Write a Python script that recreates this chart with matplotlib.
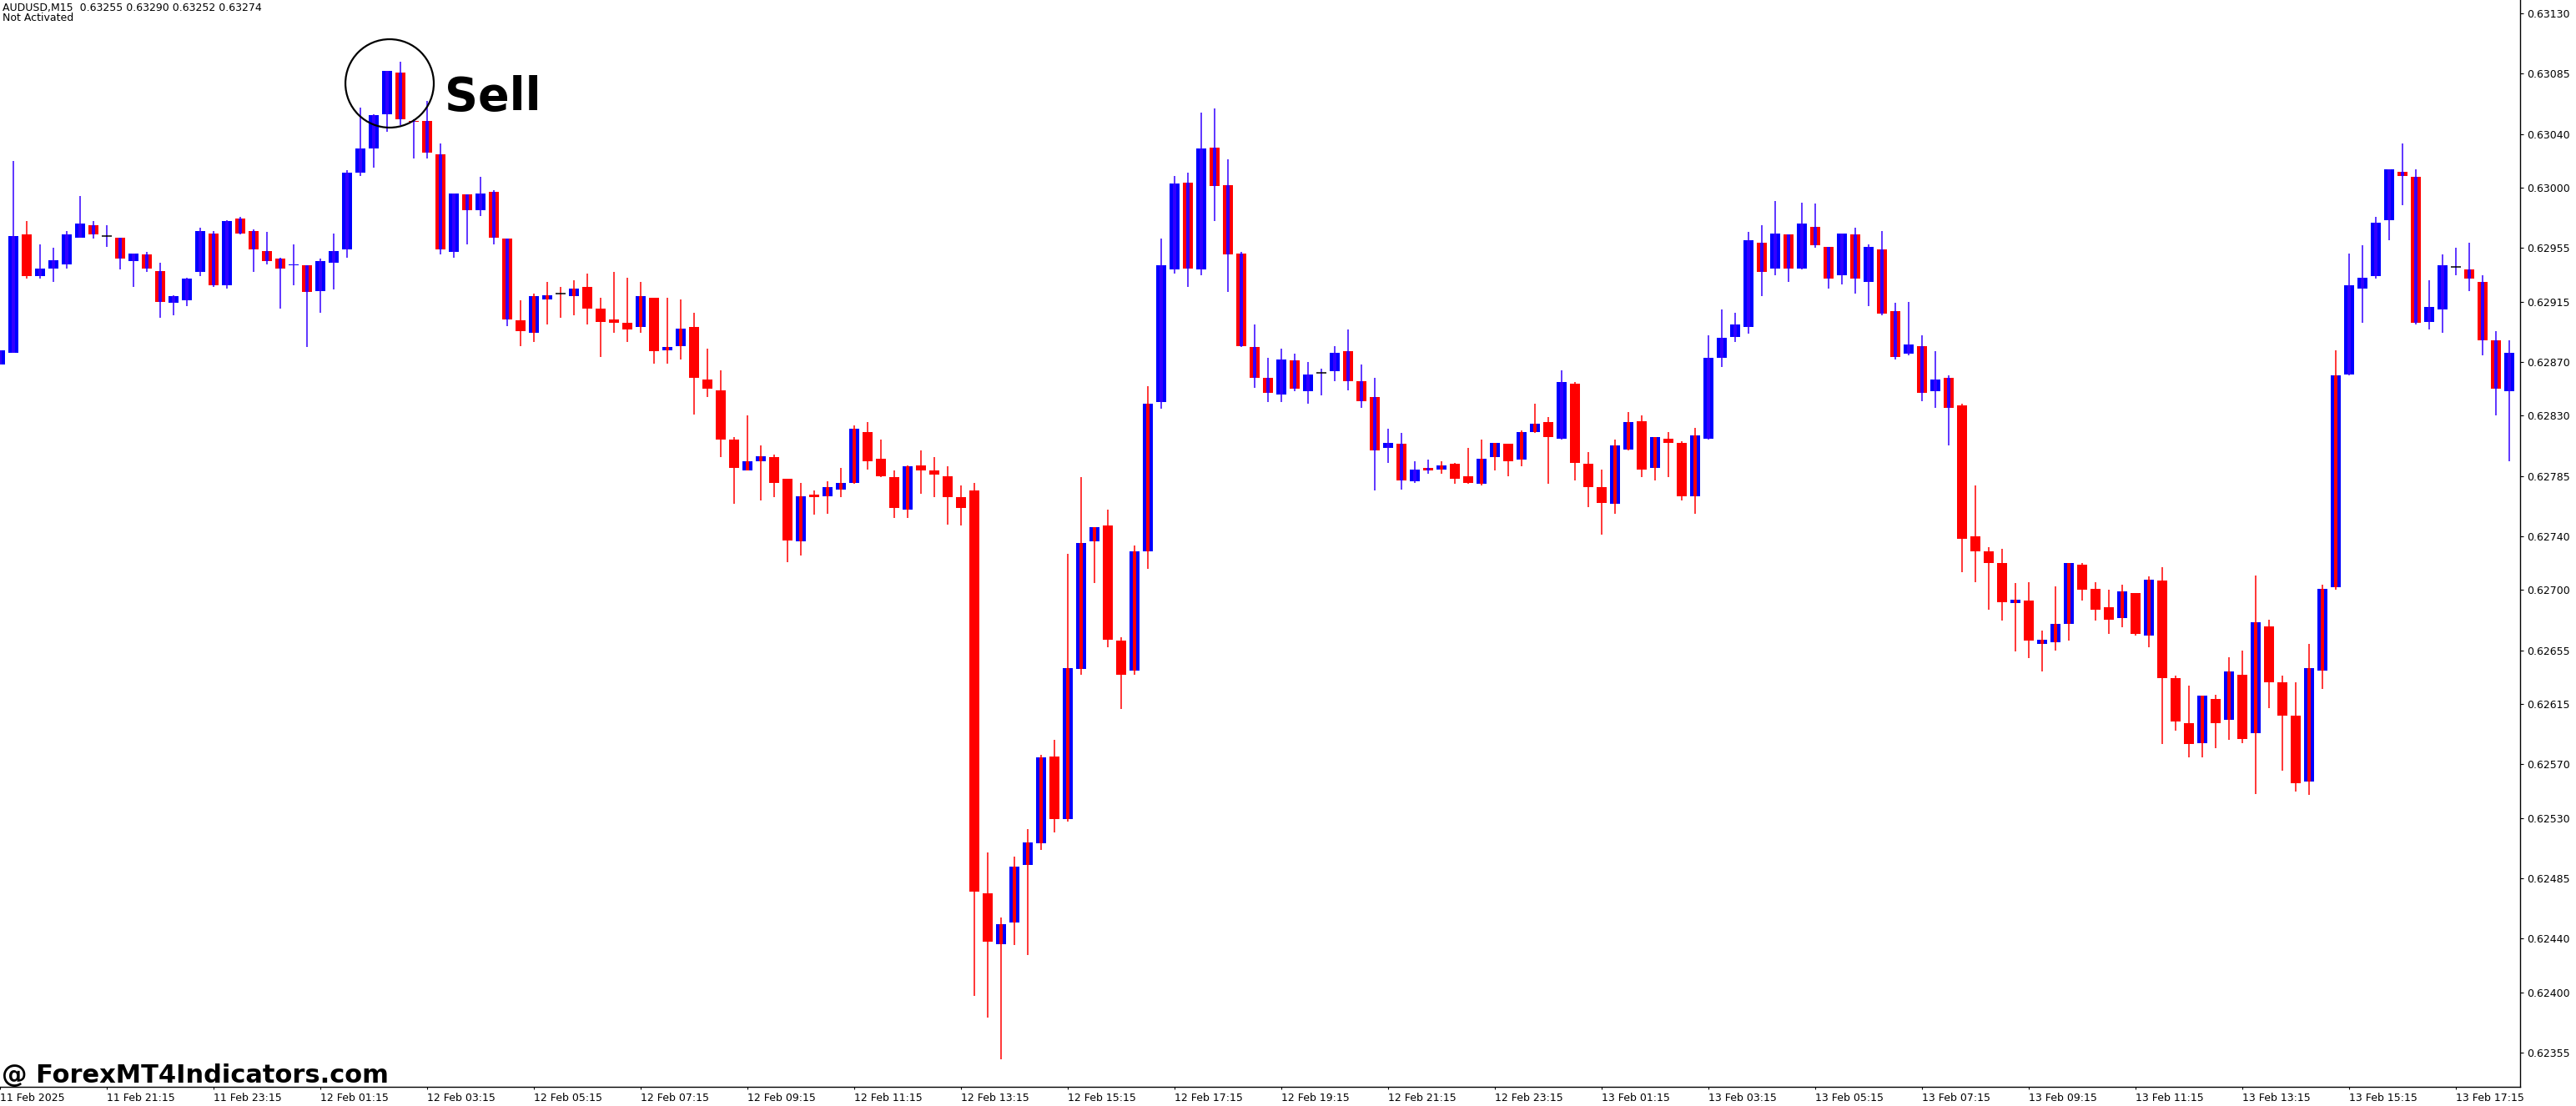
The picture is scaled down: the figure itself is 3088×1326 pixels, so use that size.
import numpy as np
import matplotlib.pyplot as plt
from matplotlib.patches import Ellipse

# AUDUSD M15 candles, 11 Feb 19:15 .. 13 Feb 18:15
opens = [
    0.62868, 0.62877, 0.62965, 0.62934, 0.62940, 0.62943, 0.62963, 0.62972, 0.62964, 0.62963,
    0.62945, 0.62950, 0.62938, 0.62914, 0.62916, 0.62937, 0.62966, 0.62927, 0.62977, 0.62968,
    0.62953, 0.62947, 0.62942, 0.62942, 0.62923, 0.62944, 0.62954, 0.63011, 0.63029, 0.63055,
    0.63086, 0.63050, 0.63050, 0.63025, 0.62952, 0.62995, 0.62983, 0.62997, 0.62962, 0.62901,
    0.62892, 0.62917, 0.62921, 0.62919, 0.62926, 0.62910, 0.62902, 0.62899, 0.62896, 0.62918,
    0.62879, 0.62882, 0.62896, 0.62857, 0.62849, 0.62812, 0.62789, 0.62796, 0.62799, 0.62783,
    0.62736, 0.62771, 0.62770, 0.62775, 0.62780, 0.62818, 0.62798, 0.62784, 0.62760, 0.62793,
    0.62789, 0.62785, 0.62769, 0.62774, 0.62474, 0.62436, 0.62452, 0.62495, 0.62511, 0.62576,
    0.62529, 0.62641, 0.62736, 0.62748, 0.62662, 0.62640, 0.62729, 0.62840, 0.62939, 0.63004,
    0.62939, 0.63030, 0.63002, 0.62951, 0.62881, 0.62858, 0.62846, 0.62871, 0.62848, 0.62862,
    0.62863, 0.62878, 0.62856, 0.62844, 0.62806, 0.62809, 0.62781, 0.62791, 0.62790, 0.62794,
    0.62785, 0.62779, 0.62799, 0.62809, 0.62797, 0.62818, 0.62825, 0.62813, 0.62854, 0.62794,
    0.62777, 0.62764, 0.62805, 0.62826, 0.62791, 0.62813, 0.62810, 0.62770, 0.62813, 0.62873,
    0.62889, 0.62896, 0.62959, 0.62940, 0.62965, 0.62940, 0.62971, 0.62956, 0.62935, 0.62965,
    0.62930, 0.62954, 0.62908, 0.62876, 0.62882, 0.62848, 0.62858, 0.62838, 0.62740, 0.62729,
    0.62720, 0.62690, 0.62692, 0.62660, 0.62661, 0.62675, 0.62719, 0.62701, 0.62687, 0.62679,
    0.62698, 0.62666, 0.62707, 0.62634, 0.62601, 0.62586, 0.62619, 0.62603, 0.62637, 0.62593,
    0.62673, 0.62631, 0.62606, 0.62557, 0.62640, 0.62702, 0.62861, 0.62925, 0.62934, 0.62976,
    0.63012, 0.63008, 0.62900, 0.62909, 0.62941, 0.62939, 0.62930, 0.62886, 0.62848,
]
highs = [
    0.62879, 0.63020, 0.62975, 0.62958, 0.62955, 0.62968, 0.62994, 0.62975, 0.62972, 0.62963,
    0.62951, 0.62952, 0.62944, 0.62920, 0.62933, 0.62970, 0.62968, 0.62976, 0.62978, 0.62969,
    0.62967, 0.62948, 0.62958, 0.62942, 0.62947, 0.62966, 0.63013, 0.63060, 0.63055, 0.63087,
    0.63094, 0.63051, 0.63065, 0.63033, 0.62996, 0.62995, 0.63008, 0.62998, 0.62962, 0.62916,
    0.62921, 0.62930, 0.62926, 0.62931, 0.62936, 0.62918, 0.62937, 0.62933, 0.62930, 0.62918,
    0.62918, 0.62917, 0.62907, 0.62880, 0.62864, 0.62814, 0.62830, 0.62808, 0.62801, 0.62783,
    0.62780, 0.62774, 0.62781, 0.62791, 0.62823, 0.62825, 0.62812, 0.62789, 0.62793, 0.62804,
    0.62799, 0.62792, 0.62778, 0.62780, 0.62504, 0.62456, 0.62501, 0.62522, 0.62577, 0.62588,
    0.62727, 0.62784, 0.62747, 0.62760, 0.62665, 0.62733, 0.62852, 0.62962, 0.63009, 0.63011,
    0.63056, 0.63059, 0.63021, 0.62952, 0.62898, 0.62873, 0.62880, 0.62876, 0.62870, 0.62865,
    0.62882, 0.62894, 0.62868, 0.62858, 0.62820, 0.62817, 0.62796, 0.62797, 0.62796, 0.62795,
    0.62806, 0.62812, 0.62810, 0.62809, 0.62819, 0.62839, 0.62829, 0.62864, 0.62855, 0.62803,
    0.62790, 0.62812, 0.62833, 0.62830, 0.62814, 0.62818, 0.62811, 0.62821, 0.62890, 0.62909,
    0.62907, 0.62967, 0.62972, 0.62990, 0.62965, 0.62989, 0.62988, 0.62956, 0.62966, 0.62970,
    0.62958, 0.62968, 0.62914, 0.62915, 0.62890, 0.62878, 0.62860, 0.62839, 0.62778, 0.62732,
    0.62731, 0.62705, 0.62706, 0.62670, 0.62703, 0.62720, 0.62720, 0.62706, 0.62700, 0.62704,
    0.62698, 0.62710, 0.62717, 0.62636, 0.62629, 0.62621, 0.62622, 0.62650, 0.62655, 0.62711,
    0.62678, 0.62636, 0.62631, 0.62660, 0.62704, 0.62879, 0.62951, 0.62957, 0.62978, 0.63014,
    0.63033, 0.63014, 0.62931, 0.62950, 0.62955, 0.62959, 0.62935, 0.62893, 0.62886,
]
lows = [
    0.62868, 0.62877, 0.62932, 0.62932, 0.62930, 0.62940, 0.62963, 0.62962, 0.62956, 0.62939,
    0.62926, 0.62937, 0.62903, 0.62905, 0.62912, 0.62934, 0.62926, 0.62925, 0.62965, 0.62937,
    0.62943, 0.62910, 0.62927, 0.62881, 0.62907, 0.62924, 0.62948, 0.63009, 0.63015, 0.63042,
    0.63047, 0.63022, 0.63022, 0.62950, 0.62948, 0.62958, 0.62979, 0.62958, 0.62897, 0.62882,
    0.62885, 0.62898, 0.62903, 0.62905, 0.62898, 0.62874, 0.62892, 0.62885, 0.62892, 0.62869,
    0.62869, 0.62872, 0.62831, 0.62844, 0.62799, 0.62764, 0.62789, 0.62767, 0.62769, 0.62721,
    0.62726, 0.62756, 0.62757, 0.62769, 0.62779, 0.62790, 0.62784, 0.62754, 0.62754, 0.62772,
    0.62769, 0.62749, 0.62748, 0.62397, 0.62381, 0.62350, 0.62435, 0.62428, 0.62506, 0.62519,
    0.62527, 0.62637, 0.62705, 0.62657, 0.62611, 0.62637, 0.62716, 0.62835, 0.62936, 0.62926,
    0.62935, 0.62975, 0.62922, 0.62881, 0.62851, 0.62840, 0.62840, 0.62848, 0.62839, 0.62845,
    0.62856, 0.62849, 0.62836, 0.62774, 0.62795, 0.62775, 0.62780, 0.62787, 0.62787, 0.62779,
    0.62779, 0.62778, 0.62789, 0.62785, 0.62792, 0.62817, 0.62779, 0.62812, 0.62782, 0.62762,
    0.62741, 0.62757, 0.62804, 0.62784, 0.62782, 0.62784, 0.62767, 0.62757, 0.62812, 0.62866,
    0.62885, 0.62891, 0.62919, 0.62935, 0.62930, 0.62939, 0.62955, 0.62925, 0.62928, 0.62921,
    0.62912, 0.62905, 0.62872, 0.62875, 0.62841, 0.62836, 0.62808, 0.62713, 0.62706, 0.62685,
    0.62677, 0.62654, 0.62649, 0.62639, 0.62655, 0.62662, 0.62692, 0.62677, 0.62667, 0.62672,
    0.62666, 0.62657, 0.62585, 0.62595, 0.62575, 0.62575, 0.62582, 0.62588, 0.62586, 0.62548,
    0.62612, 0.62565, 0.62550, 0.62547, 0.62626, 0.62700, 0.62860, 0.62899, 0.62932, 0.62961,
    0.62987, 0.62898, 0.62894, 0.62892, 0.62935, 0.62923, 0.62875, 0.62830, 0.62796,
]
closes = [
    0.62879, 0.62964, 0.62934, 0.62940, 0.62946, 0.62965, 0.62973, 0.62965, 0.62964, 0.62947,
    0.62951, 0.62940, 0.62915, 0.62919, 0.62932, 0.62968, 0.62927, 0.62975, 0.62966, 0.62954,
    0.62945, 0.62940, 0.62943, 0.62922, 0.62945, 0.62953, 0.63011, 0.63029, 0.63054, 0.63087,
    0.63051, 0.63049, 0.63026, 0.62954, 0.62996, 0.62983, 0.62996, 0.62963, 0.62902, 0.62893,
    0.62919, 0.62920, 0.62921, 0.62925, 0.62910, 0.62900, 0.62899, 0.62894, 0.62919, 0.62878,
    0.62881, 0.62895, 0.62858, 0.62850, 0.62812, 0.62791, 0.62796, 0.62800, 0.62780, 0.62737,
    0.62770, 0.62769, 0.62777, 0.62780, 0.62820, 0.62796, 0.62785, 0.62761, 0.62792, 0.62789,
    0.62786, 0.62769, 0.62761, 0.62475, 0.62438, 0.62451, 0.62494, 0.62512, 0.62575, 0.62529,
    0.62642, 0.62735, 0.62747, 0.62663, 0.62637, 0.62729, 0.62839, 0.62942, 0.63003, 0.62940,
    0.63029, 0.63001, 0.62950, 0.62882, 0.62858, 0.62847, 0.62872, 0.62850, 0.62861, 0.62862,
    0.62877, 0.62856, 0.62841, 0.62804, 0.62810, 0.62782, 0.62790, 0.62789, 0.62793, 0.62783,
    0.62780, 0.62798, 0.62810, 0.62796, 0.62818, 0.62824, 0.62814, 0.62855, 0.62795, 0.62777,
    0.62765, 0.62808, 0.62825, 0.62790, 0.62814, 0.62810, 0.62770, 0.62815, 0.62873, 0.62888,
    0.62898, 0.62961, 0.62937, 0.62966, 0.62940, 0.62973, 0.62957, 0.62932, 0.62966, 0.62932,
    0.62956, 0.62906, 0.62874, 0.62883, 0.62847, 0.62857, 0.62836, 0.62738, 0.62729, 0.62720,
    0.62691, 0.62693, 0.62662, 0.62663, 0.62675, 0.62720, 0.62700, 0.62685, 0.62678, 0.62699,
    0.62667, 0.62708, 0.62634, 0.62602, 0.62585, 0.62621, 0.62601, 0.62639, 0.62589, 0.62676,
    0.62631, 0.62606, 0.62556, 0.62642, 0.62701, 0.62860, 0.62927, 0.62933, 0.62974, 0.63014,
    0.63009, 0.62899, 0.62911, 0.62942, 0.62941, 0.62932, 0.62886, 0.62850, 0.62877,
]
# wick colour signal: 1 = blue, 0 = red
wick_blue = [
    1, 1, 0, 1, 1, 1, 1, 1, 1, 1,
    1, 1, 1, 1, 1, 1, 1, 1, 1, 1,
    1, 1, 1, 1, 1, 1, 1, 1, 1, 1,
    1, 1, 1, 1, 1, 1, 1, 1, 1, 0,
    0, 0, 0, 0, 0, 0, 0, 0, 0, 0,
    0, 0, 0, 0, 0, 0, 0, 0, 0, 0,
    0, 0, 0, 0, 0, 0, 0, 0, 0, 0,
    0, 0, 0, 0, 0, 0, 0, 0, 0, 0,
    0, 0, 0, 0, 0, 0, 0, 1, 1, 1,
    1, 1, 1, 1, 1, 1, 1, 1, 1, 1,
    1, 1, 1, 1, 1, 1, 1, 1, 0, 0,
    0, 0, 0, 0, 0, 0, 0, 1, 0, 0,
    0, 0, 0, 0, 0, 0, 0, 0, 1, 1,
    1, 1, 1, 1, 1, 1, 1, 1, 1, 1,
    1, 1, 1, 1, 1, 1, 1, 0, 0, 0,
    0, 0, 0, 0, 0, 0, 0, 0, 0, 0,
    0, 0, 0, 0, 0, 0, 0, 0, 0, 0,
    0, 0, 0, 0, 0, 0, 1, 1, 1, 1,
    1, 1, 1, 1, 1, 1, 1, 1, 1,
]

x_labels = ['11 Feb 2025', '11 Feb 21:15', '11 Feb 23:15', '12 Feb 01:15', '12 Feb 03:15',
            '12 Feb 05:15', '12 Feb 07:15', '12 Feb 09:15', '12 Feb 11:15', '12 Feb 13:15',
            '12 Feb 15:15', '12 Feb 17:15', '12 Feb 19:15', '12 Feb 21:15', '12 Feb 23:15',
            '13 Feb 01:15', '13 Feb 03:15', '13 Feb 05:15', '13 Feb 07:15', '13 Feb 09:15',
            '13 Feb 11:15', '13 Feb 13:15', '13 Feb 15:15', '13 Feb 17:15']
y_ticks = [0.63130, 0.63085, 0.63040, 0.63000, 0.62955, 0.62915, 0.62870, 0.62830,
           0.62785, 0.62740, 0.62700, 0.62655, 0.62615, 0.62570, 0.62530, 0.62485,
           0.62440, 0.62400, 0.62355]

o = np.array(opens)
h = np.array(highs)
l = np.array(lows)
c = np.array(closes)
x = np.arange(len(o))

BLUE = '#0000ff'
WICK_BLUE = '#3300ff'
RED = '#ff0000'

W, H = 3088, 1326
fig = plt.figure(figsize=(W / 100, H / 100), dpi=100)
fig.patch.set_facecolor('white')
ax = fig.add_axes([0, 23 / H, 3021 / W, 1303 / H])
ax.set_xlim(0, 3021 / 16)
ax.set_ylim(0.623295, 0.63140)

body_col = np.where(c > o, BLUE, RED)
wick_col = np.where(np.array(wick_blue) == 1, WICK_BLUE, RED)
bot = np.minimum(o, c)
hgt = np.abs(c - o)

ax.bar(x, hgt, width=0.69, bottom=bot, color=body_col, linewidth=0, zorder=1)
ax.bar(x, hgt, width=0.2, bottom=bot, color=wick_col, linewidth=0, zorder=1.5)
ax.vlines(x, l, h, colors=wick_col, linewidth=1.1, zorder=2)
doji = o == c
ax.hlines(o[doji], x[doji] - 0.345, x[doji] + 0.345, colors='black', linewidth=1.1, zorder=3)

# signal mark
ax.add_patch(Ellipse((29.19, 0.630778), 6.62, 0.000659, fill=False,
                     edgecolor='black', linewidth=1.6, zorder=4))
ax.text(33.3, 0.630579, 'Sell', fontsize=40, fontweight='bold', color='black',
        ha='left', va='baseline', zorder=4)

for s in ['top', 'left']:
    ax.spines[s].set_visible(False)
for s in ['right', 'bottom']:
    ax.spines[s].set_color('black')
    ax.spines[s].set_linewidth(1.0)

ax.yaxis.tick_right()
ax.set_yticks(y_ticks)
ax.set_yticklabels(['%.5f' % v for v in y_ticks])
ax.tick_params(axis='y', length=3, width=0.8, pad=2.5, labelsize=9, colors='black')

ax.set_xticks(x[::8])
ax.set_xticklabels(x_labels, ha='left')
ax.tick_params(axis='x', length=2.5, width=0.8, pad=2.5, labelsize=9, colors='black')

fig.text(3 / W, 1 - 3 / H, 'AUDUSD,M15  0.63255 0.63290 0.63252 0.63274',
         fontsize=9, va='top', ha='left')
fig.text(3 / W, 1 - 15 / H, 'Not Activated', fontsize=9, va='top', ha='left')
fig.text(2 / W, (H - 1298) / H, '@ ForexMT4Indicators.com', fontsize=22,
         fontweight='bold', va='baseline', ha='left')

fig.savefig('out.png', dpi=100)
